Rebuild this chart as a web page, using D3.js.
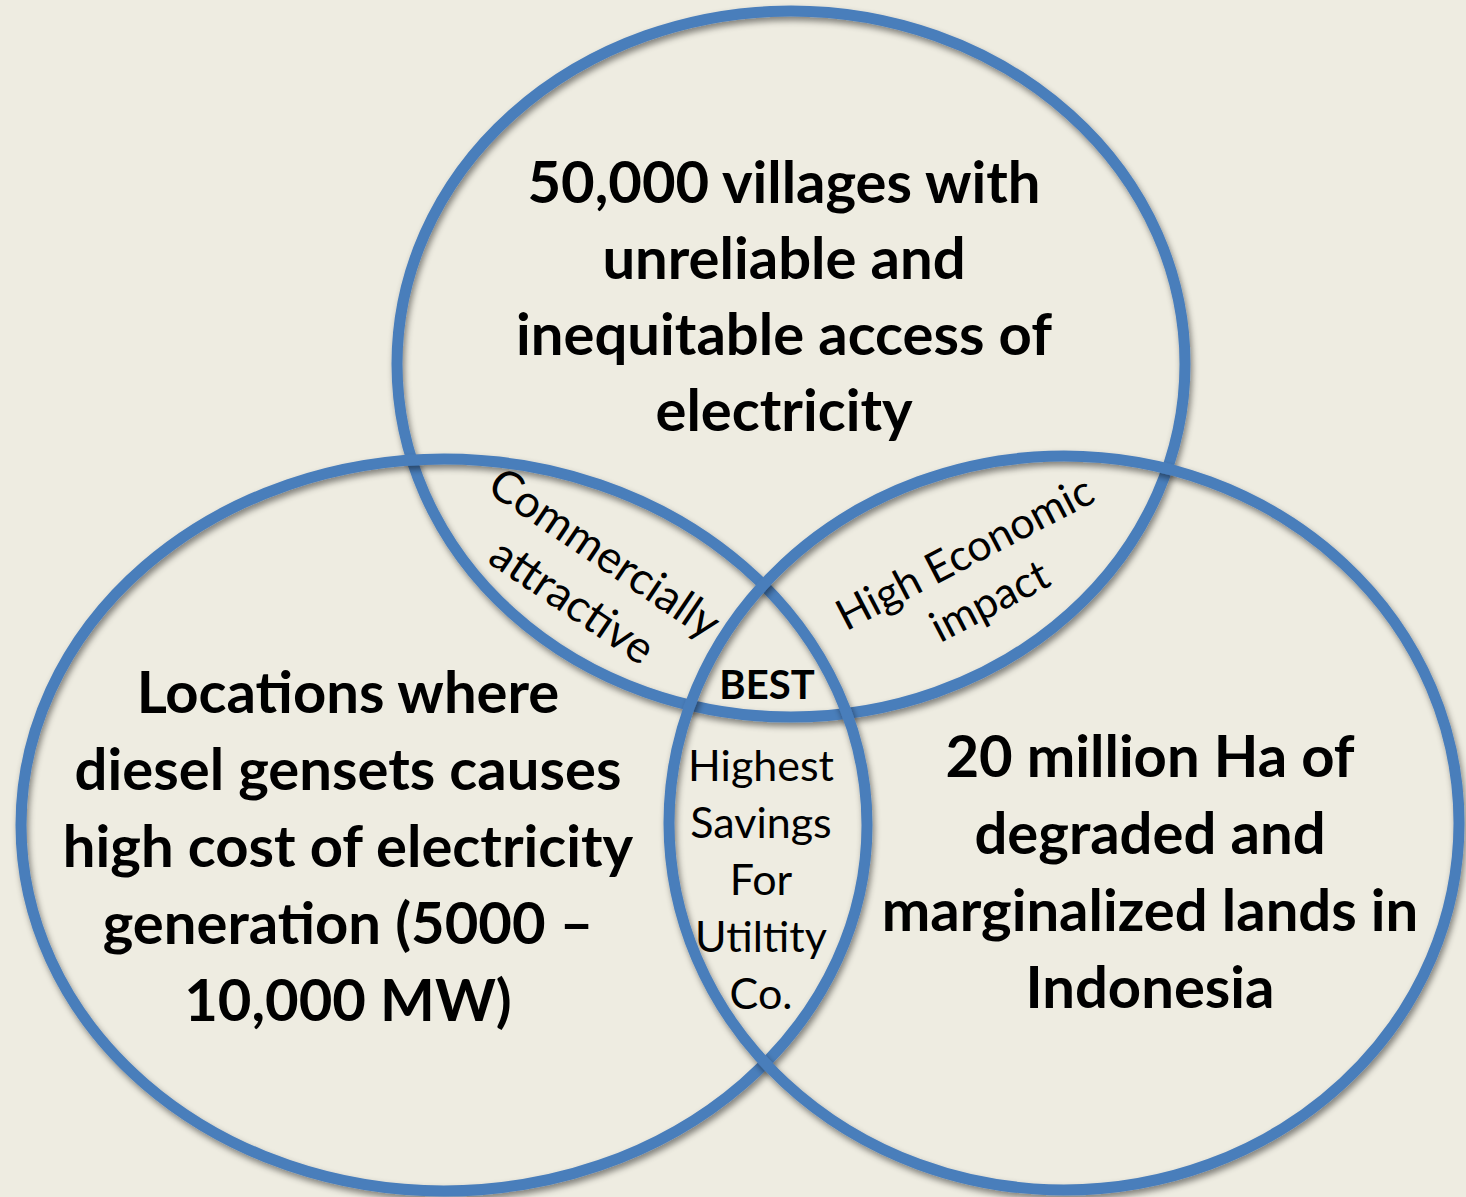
<!DOCTYPE html>
<html>
<head>
<meta charset="utf-8">
<script src="https://cdn.jsdelivr.net/npm/d3@7"></script>
<style>
  html, body { margin: 0; padding: 0; background: #eeece1; }
  svg { display: block; }
</style>
</head>
<body>
<div id="chart"></div>
<script>
// sets of the venn diagram
var setNames = ["villages", "diesel", "lands"];
var setLabels = [
  ["50,000 villages with", "unreliable and", "inequitable access of", "electricity"],
  ["Locations where", "diesel gensets causes", "high cost of electricity", "generation (5000 \u2013", "10,000 MW)"],
  ["20 million Ha of", "degraded and", "marginalized lands in", "Indonesia"]
];
// overlaps
var overlapNames = ["villages+diesel", "villages+lands", "all"];
var overlapLabels = [
  ["Commercially", "attractive"],
  ["High Economic", "impact"],
  ["Highest", "Savings", "For", "Utiltity", "Co."]
];
var bestLabel = "BEST";

var W = 1466, H = 1197;

// layout, in pixels
var ellipses = [
  {cx: 791, cy: 364, rx: 394, ry: 353},
  {cx: 444, cy: 825, rx: 423, ry: 366},
  {cx: 1064, cy: 823, rx: 395, ry: 367}
];
var setText = [
  {x: 784, y: 203, dy: 76},
  {x: 348, y: 713, dy: 77},
  {x: 1150, y: 777, dy: 77}
];
var overlapText = [
  {x: 580, y: 590, dy: 58, rot: 34, size: 45},
  {x: 984, y: 590, dy: 54, rot: -27.5, size: 43},
  {x: 761, y: 781, dy: 57, rot: 0, size: 43}
];

var svg = d3.select("#chart").append("svg")
  .attr("width", W).attr("height", H);

svg.append("rect").attr("width", W).attr("height", H).attr("fill", "#eeece1");

var defs = svg.append("defs");
var f = defs.append("filter").attr("id", "shadow")
  .attr("x", "-10%").attr("y", "-10%").attr("width", "120%").attr("height", "120%");
f.append("feDropShadow")
  .attr("dx", 2).attr("dy", 4).attr("stdDeviation", 3)
  .attr("flood-color", "#000").attr("flood-opacity", 0.45);

svg.selectAll("ellipse.set")
  .data(setNames)
  .enter().append("ellipse")
  .attr("class", "set")
  .attr("cx", function(d, i){ return ellipses[i].cx; })
  .attr("cy", function(d, i){ return ellipses[i].cy; })
  .attr("rx", function(d, i){ return ellipses[i].rx; })
  .attr("ry", function(d, i){ return ellipses[i].ry; })
  .attr("fill", "none")
  .attr("stroke", "#4a7ebb")
  .attr("stroke-width", 11)
  .attr("filter", "url(#shadow)");

var font = "Lato, 'Open Sans', sans-serif";

// big labels
svg.selectAll("text.setLabel")
  .data(setLabels)
  .enter().append("text")
  .attr("class", "setLabel")
  .attr("text-anchor", "middle")
  .attr("font-family", font)
  .attr("font-weight", "bold")
  .attr("font-size", 58)
  .attr("fill", "#000")
  .each(function(lines, i){
    var t = d3.select(this);
    lines.forEach(function(s, k){
      t.append("tspan")
        .attr("x", setText[i].x)
        .attr("y", setText[i].y + k * setText[i].dy)
        .text(s);
    });
  });

// overlap labels
svg.selectAll("text.overlapLabel")
  .data(overlapLabels)
  .enter().append("text")
  .attr("class", "overlapLabel")
  .attr("text-anchor", "middle")
  .attr("font-family", font)
  .attr("font-size", function(d, i){ return overlapText[i].size; })
  .attr("fill", "#000")
  .attr("transform", function(d, i){
    var o = overlapText[i];
    return "translate(" + o.x + "," + o.y + ") rotate(" + o.rot + ")";
  })
  .each(function(lines, i){
    var t = d3.select(this);
    var o = overlapText[i];
    var y0 = i < 2 ? -o.dy / 2 : 0;
    lines.forEach(function(s, k){
      t.append("tspan")
        .attr("x", 0)
        .attr("y", y0 + k * o.dy)
        .text(s);
    });
  });

svg.append("text")
  .attr("x", 767).attr("y", 699)
  .attr("text-anchor", "middle")
  .attr("font-family", font)
  .attr("font-weight", "bold")
  .attr("font-size", 40)
  .text(bestLabel);
</script>
</body>
</html>
